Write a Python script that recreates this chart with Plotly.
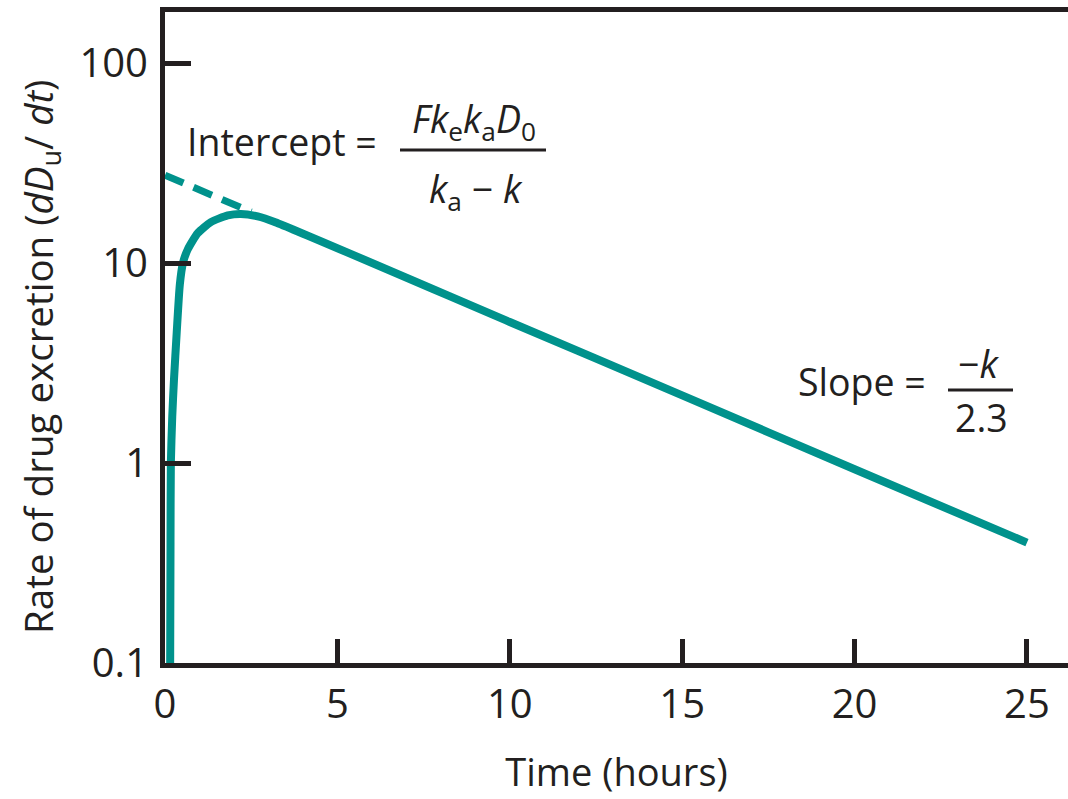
import plotly.graph_objects as go

# ---- data ----
time_h = [0.15, 0.16, 0.17, 0.21, 0.26, 0.34, 0.43, 0.52, 0.66, 0.95, 1.33, 1.82, 2.2, 2.69, 3.2, 10, 15, 20, 25]
rate = [0.1, 0.4, 1.0, 1.7, 2.6, 4.5, 7.8, 10.0, 11.7, 14.1, 16.0, 17.3, 17.6, 17.1, 16.0, 5.07, 2.18, 0.93, 0.40]

extrap_time = [0, 2.5]
extrap_rate = [27.5, 18.0]

x_ticks = [0, 5, 10, 15, 20, 25]
y_ticks = [0.1, 1, 10, 100]
y_tick_text = ["0.1", "1", "10", "100"]

TEAL = "#00928C"
INK = "#231F20"
FONT = "Open Sans"

W, H = 1068, 799
L, R, T, B = 165, 0, 12, 136
PW, PH = W - L - R, H - T - B


def px(x):
    return (x - L) / PW


def py(y):
    return (H - B - y) / PH


fig = go.Figure()
fig.add_trace(go.Scatter(x=extrap_time, y=extrap_rate, mode="lines",
                         line=dict(color=TEAL, width=7, dash="20px,11px"),
                         hoverinfo="skip", showlegend=False))
fig.add_trace(go.Scatter(x=time_h, y=rate, mode="lines",
                         line=dict(color=TEAL, width=8, shape="spline", smoothing=0.6),
                         showlegend=False))

fig.update_layout(
    width=W, height=H, autosize=False,
    margin=dict(l=L, r=R, t=T, b=B, autoexpand=False),
    paper_bgcolor="white", plot_bgcolor="white",
    font=dict(family=FONT, color=INK, size=40),
    xaxis=dict(range=[0, 26.19], tickvals=x_ticks, ticks="inside", ticklen=24,
               tickwidth=5, tickcolor=INK, showline=True, linewidth=5, linecolor=INK,
               mirror=True, showgrid=False, zeroline=False, automargin=False,
               tickfont=dict(size=40, family=FONT, color=INK), ticklabelstandoff=2,
               title=dict(text="Time (hours)", font=dict(size=38, family=FONT, color=INK),
                          standoff=32)),
    yaxis=dict(type="log", range=[-1, 2.255], tickvals=y_ticks, ticktext=y_tick_text,
               ticks="inside", ticklen=26, tickwidth=5, tickcolor=INK, automargin=False,
               showline=True, linewidth=5, linecolor=INK, showgrid=False, zeroline=False,
               tickfont=dict(size=40, family=FONT, color=INK), ticklabelstandoff=4),
)

ann_font = dict(family=FONT, size=37.5, color=INK)
annotations = [
    dict(text="Rate of drug excretion (<i>dD</i><sub>u</sub>/ <i>dt</i>)",
         x=px(40), y=py(357), xanchor="center", yanchor="middle", textangle=-90,
         font=dict(family=FONT, size=38.5, color=INK)),
    dict(text="Intercept =", x=px(379), y=py(142), xanchor="right", yanchor="middle"),
    dict(text="<i>Fk</i><sub>e</sub><i>k</i><sub>a</sub><i>D</i><sub>0</sub>",
         x=px(474), y=py(121), xanchor="center", yanchor="middle"),
    dict(text="<i>k</i><sub>a</sub> \u2212 <i>k</i>", x=px(476), y=py(191),
         xanchor="center", yanchor="middle"),
    dict(text="Slope =", x=px(928), y=py(381), xanchor="right", yanchor="middle"),
    dict(text="\u2212<i>k</i>", x=px(978), y=py(363), xanchor="center", yanchor="middle"),
    dict(text="2.3", x=px(981), y=py(417), xanchor="center", yanchor="middle"),
]
for a in annotations:
    a.setdefault("font", ann_font)
    fig.add_annotation(xref="paper", yref="paper", showarrow=False, **a)

fig.add_shape(type="line", xref="paper", yref="paper", x0=px(400), x1=px(546),
              y0=py(150), y1=py(150), line=dict(color=INK, width=3))
fig.add_shape(type="line", xref="paper", yref="paper", x0=px(948), x1=px(1013),
              y0=py(390), y1=py(390), line=dict(color=INK, width=3))

fig.write_html("out.html", config={"displayModeBar": False},
               post_script="document.body.style.margin='0';document.body.style.padding='0';")
